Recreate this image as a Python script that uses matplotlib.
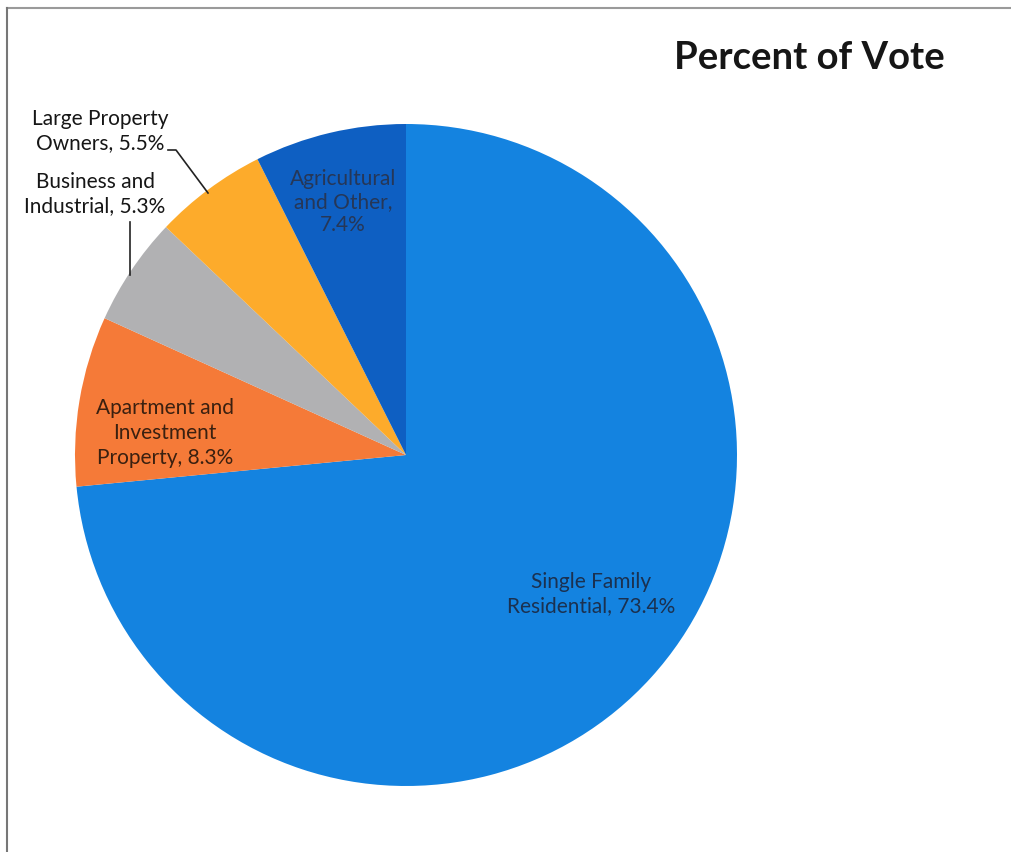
import matplotlib
matplotlib.use("Agg")
import matplotlib.pyplot as plt
from matplotlib.lines import Line2D

# vote share by property class, clockwise from 12 o'clock
categories = ["Single Family\nResidential", "Apartment and\nInvestment\nProperty",
              "Business and\nIndustrial", "Large Property\nOwners", "Agricultural\nand Other"]
shares = [73.4, 8.3, 5.3, 5.5, 7.4]
colors = ["#1483e0", "#f57a38", "#b1b1b3", "#fdab2b", "#0e5fc2"]

W, H = 1011, 853
CX, CY, R = 406, 456, 331  # pie centre / radius in pixel coords (y down)

plt.rcParams["font.family"] = ["Lato", "DejaVu Sans"]

fig = plt.figure(figsize=(W / 100, H / 100), dpi=100)
fig.patch.set_facecolor("white")
ax = fig.add_axes([0, 0, 1, 1])


def py(y):
    """pixel row (top-down) -> axes y"""
    return H - y


ax.pie(shares, colors=colors, startangle=90, counterclock=False,
       center=(CX, py(CY)), radius=R, frame=True,
       wedgeprops=dict(linewidth=0))
ax.set_xlim(0, W)
ax.set_ylim(0, H)
ax.set_aspect("equal")
ax.axis("off")

# chart frame (top and left edges)
ax.add_line(Line2D([7, W], [py(9), py(9)], color="#9a9a9a", linewidth=1.5))
ax.add_line(Line2D([7, 7], [py(9), 0], color="#777777", linewidth=1.5))

ax.text(809, py(58), "Percent of Vote", ha="center", va="center",
        fontsize=27.5, fontweight="bold", color="#161616")

# label text and placement for each slice
label_pos = [(591, 594), (165, 433), (95, 194), (100, 131), (343, 202)]
label_col = ["#1b3150", "#3a2010", "#161616", "#161616", "#263757"]
label_gap = [1.3, 1.32, 1.3, 1.3, 1.2]
for cat, val, (lx, ly), lc, gap in zip(categories, shares, label_pos, label_col, label_gap):
    txt = f"{cat}, {val}%"
    if cat.startswith("Agricultural"):
        txt = f"{cat},\n{val}%"
    ax.text(lx, py(ly), txt, ha="center", va="center", fontsize=15,
            color=lc, linespacing=gap)

# leader lines for the two small outside labels
ax.add_line(Line2D([168, 176, 208], [py(151), py(151), py(194)],
                   color="#222222", linewidth=1.2))
ax.add_line(Line2D([130, 130], [py(223), py(276)],
                   color="#222222", linewidth=1.2))

fig.savefig("out.png", dpi=100, facecolor="white")
